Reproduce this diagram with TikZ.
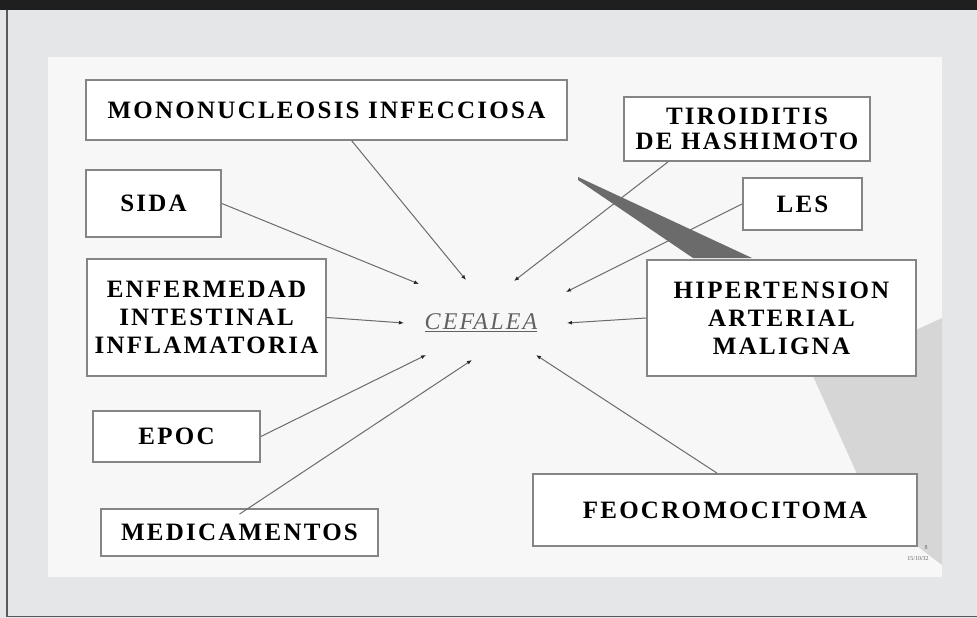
\documentclass[tikz,border=0pt]{standalone}
\usepackage{fontspec}
\setmainfont{Liberation Serif}
\newfontfamily\labelfont[LetterSpace=9]{Liberation Serif}
\usetikzlibrary{arrows.meta}
\begin{document}
\begin{tikzpicture}[x=1pt,y=-1pt,
    box/.style={draw=black!48,line width=1.8pt,fill=white,inner sep=0pt,align=center,
      font=\labelfont\bfseries\fontsize{25}{28}\selectfont},
    link/.style={draw=black!58,line width=1pt,-{Latex[length=5pt,width=4pt,color=black!85]}}]
  \useasboundingbox (0,0) rectangle (977,618);
  % frame of the slide
  \fill[fill={rgb,255:red,229;green,230;blue,232}] (0,0) rectangle (977,618);
  \fill[black!88] (0,0) rectangle (977,10);
  \draw[black!65,line width=1.5pt] (7,10)--(7,616.5)--(977,616.5);
  \fill[black!3] (48,57) rectangle (942,577);
  % shadows behind the boxes
  \fill[black!16] (813,376)--(916,330)--(942,318)--(942,565)--(917,546)--(857,474)--cycle;
  \fill[black!58] (578,177)--(752,258)--(693,258)--(578,180)--cycle;
  % boxes
  \node[box,minimum width=481,minimum height=60] (mono) at (326.5,110) {MONONUCLEOSIS INFECCIOSA};
  \node[box,minimum width=135,minimum height=67] (sida) at (153.5,203.5) {SIDA};
  \node[box,minimum width=239,minimum height=117] (enf) at (206.5,317.5) {ENFERMEDAD\\INTESTINAL\\INFLAMATORIA};
  \node[box,minimum width=167,minimum height=51] (epoc) at (176.5,436.5) {EPOC};
  \node[box,minimum width=277,minimum height=47] (medic) at (239.5,532.5) {MEDICAMENTOS};
  \node[box,minimum width=246,minimum height=64,font=\labelfont\bfseries\fontsize{25}{25}\selectfont] (tiro) at (747,129) {TIROIDITIS\\DE HASHIMOTO};
  \node[box,minimum width=119,minimum height=52] (les) at (802.5,204) {LES};
  \node[box,minimum width=269,minimum height=116] (hiper) at (781.5,318) {HIPERTENSION\\ARTERIAL\\MALIGNA};
  \node[box,minimum width=384,minimum height=72] (feo) at (725,510) {FEOCROMOCITOMA};
  \node[font=\labelfont\itshape\fontsize{24}{26}\selectfont,text=black!62] (cef) at (481,323) {\underline{CEFALEA}};
  % arrow ends round CEFALEA
  \coordinate (tMono) at (466,280);
  \coordinate (tSida) at (419,284);
  \coordinate (tTiro) at (514,281);
  \coordinate (tLes) at (566,292);
  \coordinate (tEnf) at (404,323);
  \coordinate (tHiper) at (567,323);
  \coordinate (tEpoc) at (426,355);
  \coordinate (tMedic) at (472,360);
  \coordinate (tFeo) at (536,355);
  \draw[link] (mono)--(tMono);
  \draw[link] (sida.east)--(tSida);
  \draw[link] ([xshift=-79pt]tiro.south)--(tTiro);
  \draw[link] (les.west)--(tLes);
  \draw[link] (enf.east)--(tEnf);
  \draw[link] (hiper.west)--(tHiper);
  \draw[link] (epoc.east)--(tEpoc);
  \draw[link] ([yshift=-6pt]medic.north)--(tMedic);
  \draw[link] ([xshift=-8pt]feo.north)--(tFeo);
  % page number and date
  \node[font=\fontsize{6}{7}\selectfont,text=black!60] (pag) at (926,548) {8};
  \node[font=\fontsize{6}{7}\selectfont,text=black!60] (fecha) at (918,559) {15/10/32};
\end{tikzpicture}
\end{document}
